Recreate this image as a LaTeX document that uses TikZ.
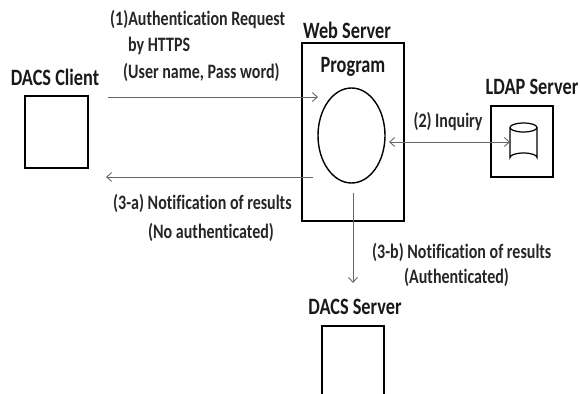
\documentclass[tikz,border=0pt]{standalone}
\usepackage{graphicx}
\usepackage{fontspec}
\setmainfont[Ligatures=NoCommon]{Carlito}
\usetikzlibrary{arrows.meta,shapes.geometric}
\newcommand{\vs}[1]{\scalebox{1}[1.28]{#1}}
\begin{document}
\begin{tikzpicture}[x=1pt,y=-1pt,
  box/.style={draw=black,line width=1.4pt,inner sep=0pt},
  title/.style={font=\fontsize{18.3}{20}\selectfont\bfseries,text=black!90,inner sep=0pt},
  lbl/.style={font=\fontsize{16}{18}\selectfont\bfseries,text=black!85,inner sep=0pt},
  conn/.style={draw=black!60,line width=0.9pt,-{Straight Barb[length=5pt,width=9pt]}},
  dconn/.style={draw=black!60,line width=0.9pt,{Straight Barb[length=5pt,width=9pt]}-{Straight Barb[length=5pt,width=9pt]}}
]
\useasboundingbox (0,0) rectangle (580,393);
\clip (0,0) rectangle (580,393);
% boxes
\node[box,minimum width=63pt,minimum height=72pt] (client) at (56.5,132) {};
\node[box,minimum width=102pt,minimum height=178pt] (web) at (353,132) {};
\node[draw=black,line width=1.4pt,ellipse,minimum width=67pt,minimum height=95pt,inner sep=0pt] (prog) at (351.5,135.5) {};
\node[box,minimum width=62pt,minimum height=71pt] (ldap) at (522,141.5) {};
\node[box,minimum width=62pt,minimum height=80pt] (dserver) at (353,366) {};
% database cylinder
\draw[line width=1.2pt] (510,127.5) -- (510,157.5) arc (180:360:13.5 and 4.5) -- (537,127.5);
\draw[line width=1.2pt] (523.5,127.5) ellipse (13.5 and 4.5);
\coordinate (dbw) at (510,142);
% titles
\node[title] (tclient) at (55,77) {\vs{DACS Client}};
\node[title] (tweb) at (347,30) {\vs{Web Server}};
\node[title] (tprog) at (353,67) {\vs{Program}};
\node[title] (tldap) at (532,87) {\vs{LDAP Server}};
\node[title] (tdserver) at (355,307) {\vs{DACS Server}};
% labels
\node[lbl,anchor=west] (l1a) at (110,20) {\vs{(1)Authentication Request}};
\node[lbl,anchor=west] (l1b) at (128,46) {\vs{by HTTPS}};
\node[lbl,anchor=west] (l1c) at (123,72) {\vs{(User name, Pass word)}};
\node[lbl] (l2) at (448,122) {\vs{(2) Inquiry}};
\node[lbl,anchor=west] (l3a1) at (113,203) {\vs{(3-a) Notification of results}};
\node[lbl,anchor=west] (l3a2) at (148,232) {\vs{(No authenticated)}};
\node[lbl,anchor=west] (l3b1) at (372,252) {\vs{(3-b) Notification of results}};
\node[lbl,anchor=west] (l3b2) at (404,277) {\vs{(Authenticated)}};
% connector ends
\coordinate (c1s) at (108,97);
\coordinate (c1e) at (318,97);
\coordinate (c3as) at (313,177);
\coordinate (c3ae) at (106,177);
\coordinate (c3bs) at (353,193);
\coordinate (c3be) at (353,283);
\coordinate (c2s) at (389,142);
% connectors
\draw[conn] (c1s) -- (c1e);
\draw[conn] (c3as) -- (c3ae);
\draw[conn] (c3bs) -- (c3be);
\draw[dconn] (c2s) -- (dbw);
\end{tikzpicture}
\end{document}
